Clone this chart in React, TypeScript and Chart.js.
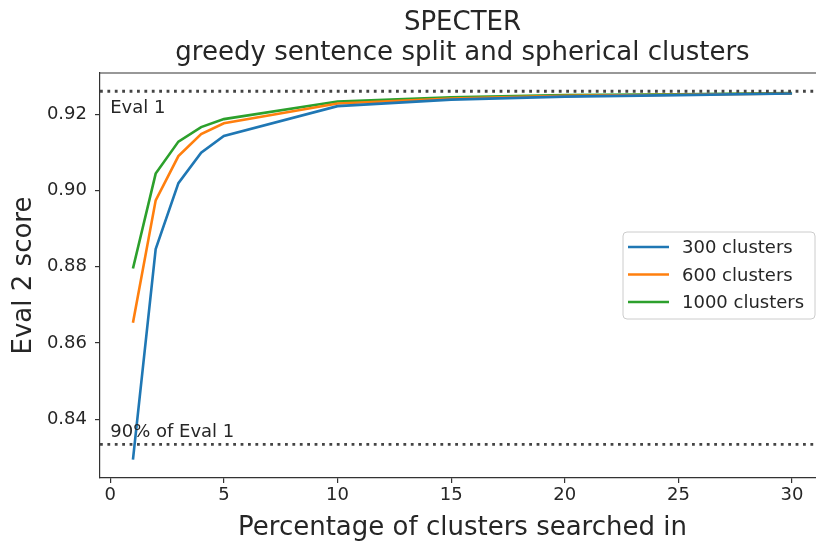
import React, { useEffect, useRef } from "react";
import { Chart, registerables } from "chart.js";

Chart.register(...registerables);

const X_VALUES = [1, 2, 3, 4, 5, 10, 15, 20, 25, 30];
const S300 = [0.8294, 0.8846, 0.9019, 0.9099, 0.9143, 0.9221, 0.9238, 0.9246, 0.925, 0.9254];
const S600 = [0.8653, 0.8974, 0.909, 0.9148, 0.9176, 0.9228, 0.9241, 0.9248, 0.9251, 0.9254];
const S1000 = [0.8795, 0.9044, 0.9128, 0.9166, 0.9187, 0.9233, 0.9244, 0.925, 0.9252, 0.9255];
const SERIES_LABELS = ["300 clusters", "600 clusters", "1000 clusters"];
const SERIES_COLORS = ["#1f77b4", "#ff7f0e", "#2ca02c"];
const X_TICKS = [0, 5, 10, 15, 20, 25, 30];
const Y_TICKS = [0.84, 0.86, 0.88, 0.9, 0.92];
const EVAL1 = 0.926;
const EVAL1_90 = 0.8334;
const EVAL1_TEXT = "Eval 1";
const EVAL1_90_TEXT = "90% of Eval 1";
const TITLE_LINES = ["SPECTER", "greedy sentence split and spherical clusters"];
const X_TITLE = "Percentage of clusters searched in";
const Y_TITLE = "Eval 2 score";

const FONT = '"DejaVu Sans", "Liberation Sans", sans-serif';
const TEXT_COLOR = "#262626";
const SPINE = "#333333";

const decor = {
  id: "decor",
  afterDatasetsDraw(chart: any) {
    const { ctx, chartArea, scales } = chart;
    const x = scales.x;
    const y = scales.y;
    ctx.save();
    ctx.strokeStyle = "#444444";
    ctx.lineWidth = 2.8;
    ctx.setLineDash([2.8, 4.6]);
    ctx.lineCap = "butt";
    for (const v of [EVAL1, EVAL1_90]) {
      const py = y.getPixelForValue(v);
      ctx.beginPath();
      ctx.moveTo(chartArea.left, py);
      ctx.lineTo(chartArea.right, py);
      ctx.stroke();
    }
    ctx.setLineDash([]);
    ctx.fillStyle = TEXT_COLOR;
    ctx.font = `18px ${FONT}`;
    ctx.textAlign = "left";
    ctx.textBaseline = "alphabetic";
    ctx.fillText(EVAL1_TEXT, x.getPixelForValue(0), y.getPixelForValue(EVAL1 - 0.0056));
    ctx.fillText(EVAL1_90_TEXT, x.getPixelForValue(0), y.getPixelForValue(EVAL1_90 + 0.0018));
    ctx.restore();
  },
  afterDraw(chart: any) {
    const { ctx, chartArea } = chart;
    ctx.save();
    // top spine
    ctx.strokeStyle = SPINE;
    ctx.lineWidth = 1.2;
    ctx.beginPath();
    ctx.moveTo(chartArea.left, chartArea.top);
    ctx.lineTo(chartArea.right, chartArea.top);
    ctx.stroke();

    const cx = (chartArea.left + chartArea.right) / 2;
    const cy = (chartArea.top + chartArea.bottom) / 2;
    ctx.fillStyle = TEXT_COLOR;
    ctx.font = `26px ${FONT}`;
    ctx.textAlign = "center";
    ctx.textBaseline = "alphabetic";
    ctx.fillText(TITLE_LINES[0], cx, 30);
    ctx.fillText(TITLE_LINES[1], cx, 60);
    ctx.fillText(X_TITLE, cx, 535);
    ctx.save();
    ctx.translate(31, cy);
    ctx.rotate(-Math.PI / 2);
    ctx.fillText(Y_TITLE, 0, 0);
    ctx.restore();

    // legend
    const boxRight = chartArea.right - 10;
    const boxW = 192;
    const boxH = 87;
    const boxLeft = boxRight - boxW;
    const boxTop = cy - boxH / 2;
    ctx.beginPath();
    const r = 4;
    ctx.moveTo(boxLeft + r, boxTop);
    ctx.lineTo(boxRight - r, boxTop);
    ctx.quadraticCurveTo(boxRight, boxTop, boxRight, boxTop + r);
    ctx.lineTo(boxRight, boxTop + boxH - r);
    ctx.quadraticCurveTo(boxRight, boxTop + boxH, boxRight - r, boxTop + boxH);
    ctx.lineTo(boxLeft + r, boxTop + boxH);
    ctx.quadraticCurveTo(boxLeft, boxTop + boxH, boxLeft, boxTop + boxH - r);
    ctx.lineTo(boxLeft, boxTop + r);
    ctx.quadraticCurveTo(boxLeft, boxTop, boxLeft + r, boxTop);
    ctx.closePath();
    ctx.fillStyle = "rgba(255,255,255,0.8)";
    ctx.fill();
    ctx.strokeStyle = "#cccccc";
    ctx.lineWidth = 1;
    ctx.stroke();
    ctx.font = `18px ${FONT}`;
    ctx.textAlign = "left";
    chart.data.datasets.forEach((ds: any, i: number) => {
      const ly = boxTop + 15 + i * 27.5;
      ctx.strokeStyle = ds.borderColor;
      ctx.lineWidth = 2.6;
      ctx.beginPath();
      ctx.moveTo(boxLeft + 5, ly);
      ctx.lineTo(boxLeft + 46, ly);
      ctx.stroke();
      ctx.fillStyle = TEXT_COLOR;
      ctx.fillText(ds.label, boxLeft + 59, ly + 6);
    });
    ctx.restore();
  },
};

export default function App() {
  const ref = useRef<HTMLCanvasElement | null>(null);
  useEffect(() => {
    if (!ref.current) return;
    const series = [S300, S600, S1000];
    const chart = new Chart(ref.current, {
      type: "line",
      data: {
        datasets: series.map((s, i) => ({
          label: SERIES_LABELS[i],
          data: X_VALUES.map((x, j) => ({ x, y: s[j] })),
          borderColor: SERIES_COLORS[i],
          backgroundColor: SERIES_COLORS[i],
          borderWidth: 2.6,
          pointRadius: 0,
          tension: 0,
          fill: false,
        })),
      },
      options: {
        animation: false,
        responsive: false,
        devicePixelRatio: 1,
        layout: { padding: { top: 73, right: 25, left: 0, bottom: 0 } },
        plugins: {
          legend: { display: false },
          title: { display: false },
          tooltip: { enabled: false },
        },
        scales: {
          x: {
            type: "linear",
            min: -0.45,
            max: 31.45,
            afterBuildTicks: (s: any) => {
              s.ticks = X_TICKS.map((v) => ({ value: v }));
            },
            afterFit: (s: any) => {
              s.height = 67;
            },
            grid: { drawOnChartArea: false, drawTicks: true, tickLength: 5, color: SPINE, lineWidth: 1.2 },
            border: { display: true, color: SPINE, width: 1.2 },
            ticks: {
              font: { family: FONT, size: 18 },
              color: TEXT_COLOR,
              padding: 2,
              maxRotation: 0,
              autoSkip: false,
              callback: (v: any) => String(v),
            },
          },
          y: {
            type: "linear",
            min: 0.82457,
            max: 0.93079,
            afterBuildTicks: (s: any) => {
              s.ticks = Y_TICKS.map((v) => ({ value: v }));
            },
            afterFit: (s: any) => {
              s.width = 100;
            },
            grid: { drawOnChartArea: false, drawTicks: true, tickLength: 5, color: SPINE, lineWidth: 1.2 },
            border: { display: true, color: SPINE, width: 1.2 },
            ticks: {
              font: { family: FONT, size: 18 },
              color: TEXT_COLOR,
              padding: 8,
              autoSkip: false,
              callback: (v: any) => Number(v).toFixed(2),
            },
          },
        },
      },
      plugins: [decor],
    } as any);
    return () => chart.destroy();
  }, []);
  return (
    <div style={{ position: "fixed", left: 0, top: 0, width: 816, height: 545, overflow: "hidden", background: "#fff" }}>
      <canvas ref={ref} width={850} height={545} style={{ display: "block", width: 850, height: 545 }} />
    </div>
  );
}
